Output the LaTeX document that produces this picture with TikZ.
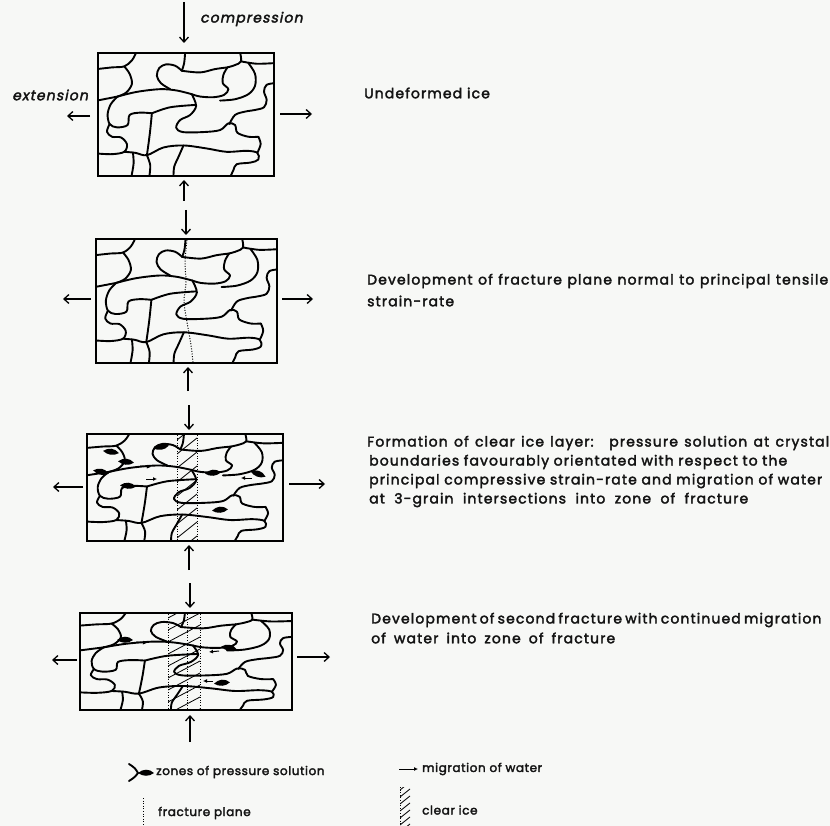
\documentclass[tikz,border=0pt]{standalone}
\usepackage{fontspec}
\setmainfont{Poppins}[LetterSpace=8,FakeBold=2.5]
\newfontfamily\lblfont{Poppins}[FakeSlant=0.2,LetterSpace=8,FakeBold=2.5]
\newfontfamily\legfont{Poppins}[LetterSpace=5,FakeBold=2.5]
\usetikzlibrary{arrows.meta}
\definecolor{bgc}{RGB}{247,248,246}
\definecolor{ink}{RGB}{20,20,20}
\newcommand{\icenet}{%
  \clip (293,160) rectangle (822,527);
  \draw[gb] plot[smooth,tension=0.55] coordinates {(408,158) (395,182) (372,200) (335,203) (290,208)};
  \draw[gb] plot[smooth,tension=0.55] coordinates {(372,200) (388,222) (395,252) (378,278) (352,290)};
  \draw[gb] plot[smooth,tension=0.55] coordinates {(290,302) (352,290)};
  \draw[gb] plot[smooth,tension=0.55] coordinates {(352,290) (410,276) (480,268) (530,272) (575,283)};
  \draw[gb] plot[smooth,tension=0.55] coordinates {(555,158) (552,190) (545,213)};
  \draw[gb] plot[smooth,tension=0.55] coordinates {(545,213) (525,198) (497,194) (477,205) (470,228) (482,250) (510,268)};
  \draw[gb] plot[smooth,tension=0.55] coordinates {(545,213) (600,218) (645,208) (682,203)};
  \draw[gb] plot[smooth,tension=0.55] coordinates {(720,158) (723,185) (705,196) (682,203)};
  \draw[gb] plot[smooth,tension=0.55] coordinates {(723,185) (770,192) (826,190)};
  \draw[gb] plot[smooth,tension=0.55] coordinates {(682,203) (670,225) (668,250) (685,268) (672,285) (640,292) (600,290) (575,283)};
  \draw[gb] plot[smooth,tension=0.55] coordinates {(745,190) (765,222) (765,258) (745,283) (705,298) (660,302)};
  \draw[gb] plot[smooth,tension=0.55] coordinates {(826,250) (800,255) (792,275) (800,300) (792,322) (765,330) (735,335) (705,345) (688,372)};
  \draw[gb] plot[smooth,tension=0.55] coordinates {(575,283) (588,318) (570,345) (540,360) (528,383) (548,396) (610,396) (660,390) (685,370) (705,375) (712,398) (745,410) (775,410)};
  \draw[gb] plot[smooth,tension=0.55] coordinates {(352,290) (332,312) (322,342) (328,372) (350,382) (382,375) (388,345) (420,338) (455,340)};
  \draw[gb] plot[smooth,tension=0.55] coordinates {(455,340) (510,322) (586,315)};
  \draw[gb] plot[smooth,tension=0.55] coordinates {(455,340) (450,390) (445,430) (440,465)};
  \draw[gb] plot[smooth,tension=0.55] coordinates {(328,372) (320,395) (335,410) (362,412) (380,432) (372,455) (335,462) (290,460)};
  \draw[gb] plot[smooth,tension=0.55] coordinates {(372,455) (405,458) (440,465) (490,442) (550,436) (620,445) (680,455) (740,452) (772,458) (775,478) (752,487) (710,492) (700,510) (690,531)};
  \draw[gb] plot[smooth,tension=0.55] coordinates {(440,465) (450,495) (447,531)};
  \draw[gb] plot[smooth,tension=0.55] coordinates {(550,436) (535,470) (522,500) (520,531)};
  \draw[gb] plot[smooth,tension=0.55] coordinates {(398,457) (400,490) (393,531)};
  \draw[gb] plot[smooth,tension=0.55] coordinates {(775,410) (782,432) (772,458)};
}
\begin{document}
\begin{tikzpicture}[x=1pt,y=-1pt,
  gb/.style={line width=1.9pt,line join=round,line cap=round},
  boxst/.style={draw,line width=2.1pt,inner sep=0pt},
  arr/.style={line width=1.3pt,-{Straight Barb[length=5pt,width=9pt]}},
  smallarr/.style={line width=1pt,-{Latex[length=4pt,width=4pt]}},
  fracture/.style={line width=1pt,dash pattern=on 1pt off 1.6pt},
  hatch/.style={line width=0.8pt},
  desc/.style={anchor=west,inner sep=0pt,text=ink,font=\fontsize{14}{16}\selectfont},
  leg/.style={anchor=west,inner sep=0pt,text=ink,font=\legfont\fontsize{12}{14}\selectfont},
  lbl/.style={anchor=west,inner sep=0pt,text=ink,font=\lblfont\fontsize{14}{16}\selectfont},
  blob/.pic={\fill (-8,0) .. controls (-3,-4.2) and (3,-4.6) .. (8,0) .. controls (3,3.8) and (-3,3.6) .. (-8,0);}
]
\fill[bgc] (0,0) rectangle (830,826);
\useasboundingbox (0,0) rectangle (830,826);

% boxes
\node[boxst,minimum width=176pt,minimum height=123pt] (b1) at (186,114.5) {};
\node[boxst,minimum width=181pt,minimum height=124pt] (b2) at (186.5,301) {};
\node[boxst,minimum width=196pt,minimum height=107pt] (b3) at (185,487.5) {};
\node[boxst,minimum width=212pt,minimum height=97pt] (b4) at (186,661.5) {};

% grain networks
\begin{scope}[shift={(98,53)},xscale=0.998,yscale=1.005,shift={(-97.67,-53.33)},scale=0.33333]
\icenet
\end{scope}
\begin{scope}[shift={(96,239)},xscale=1.026,yscale=1.014,shift={(-97.67,-53.33)},scale=0.33333]
\icenet
\end{scope}
\begin{scope}[shift={(87,434)},xscale=1.111,yscale=0.875,shift={(-97.67,-53.33)},scale=0.33333]
\icenet
\end{scope}
\begin{scope}[shift={(80,613)},xscale=1.202,yscale=0.793,shift={(-97.67,-53.33)},scale=0.33333]
\icenet
\end{scope}

% fracture plane in box 2
\draw[fracture] plot[smooth] coordinates {(187,240) (185,262) (186,282) (184,302) (187,322) (191,345) (193,362)};

% clear ice band box 3
\begin{scope}
\clip (177,434) rectangle (197,541);
\foreach \yy in {440,454,...,566} \draw[hatch] (177,\yy) -- (197,\yy-16);
\end{scope}
\draw[fracture] (177,435) -- (177,540);
\draw[fracture] (197,435) -- (197,540);

% clear ice band box 4
\begin{scope}
\clip (168,613) rectangle (200,710);
\foreach \yy in {618,630,...,738} \draw[hatch] (168,\yy) -- (200,\yy-17);
\end{scope}
\draw[fracture] (168,614) -- (168,709);
\draw[fracture] (187,614) -- (187,709);
\draw[fracture] (200,614) -- (200,709);

% pressure solution zones box 3
\pic[rotate=-8] at (111,452) {blob};
\pic[rotate=-5] at (126,462) {blob};
\pic[rotate=-12] at (101,472) {blob};
\pic[rotate=-5] at (128,486) {blob};
\pic[rotate=10] at (161,447) {blob};
\pic[rotate=5] at (213,473) {blob};
\pic[rotate=-20] at (258,474) {blob};
\pic[rotate=5] at (220,510) {blob};
\coordinate (m1s) at (140,466); \coordinate (m1e) at (151,467);
\coordinate (m2s) at (146,479); \coordinate (m2e) at (157,479);
\coordinate (m3s) at (252,478); \coordinate (m3e) at (241,478);
\draw[smallarr] (m1s) -- (m1e);
\draw[smallarr] (m2s) -- (m2e);
\draw[smallarr] (m3s) -- (m3e);

% pressure solution zones box 4
\pic[rotate=0] at (125,640) {blob};
\pic[rotate=-10] at (229,648) {blob};
\pic[rotate=5] at (222,683) {blob};
\coordinate (m4s) at (136,642); \coordinate (m4e) at (147,643);
\coordinate (m5s) at (219,651); \coordinate (m5e) at (209,652);
\coordinate (m6s) at (213,681); \coordinate (m6e) at (203,681);
\draw[smallarr] (m4s) -- (m4e);
\draw[smallarr] (m5s) -- (m5e);
\draw[smallarr] (m6s) -- (m6e);

% vertical arrows
\coordinate (v0s) at (184,2);   \coordinate (v0e) at (184,43);
\coordinate (v1s) at (184,201); \coordinate (v1e) at (184,180);
\coordinate (v2s) at (186,210); \coordinate (v2e) at (186,235);
\coordinate (v3s) at (188,391); \coordinate (v3e) at (188,367);
\coordinate (v4s) at (189,405); \coordinate (v4e) at (189,430);
\coordinate (v5s) at (189,570); \coordinate (v5e) at (189,545);
\coordinate (v6s) at (190,583); \coordinate (v6e) at (190,608);
\coordinate (v7s) at (190,742); \coordinate (v7e) at (190,715);
\foreach \k in {0,...,7} \draw[arr] (v\k s) -- (v\k e);

% horizontal arrows
\coordinate (h1ls) at (90,116);  \coordinate (h1le) at (67,116);
\coordinate (h1rs) at (280,114); \coordinate (h1re) at (312,114);
\coordinate (h2ls) at (91,299);  \coordinate (h2le) at (63,299);
\coordinate (h2rs) at (282,299); \coordinate (h2re) at (313,299);
\coordinate (h3ls) at (83,487);  \coordinate (h3le) at (53,487);
\coordinate (h3rs) at (289,484); \coordinate (h3re) at (325,484);
\coordinate (h4ls) at (77,660);  \coordinate (h4le) at (52,660);
\coordinate (h4rs) at (297,657); \coordinate (h4re) at (330,657);
\foreach \k in {1,...,4} {\draw[arr] (h\k ls) -- (h\k le); \draw[arr] (h\k rs) -- (h\k re);}

% labels
\node[lbl] (lc) at (200,19) {compression};
\node[lbl] (lx) at (12,95) {extension};

% descriptions
\node[desc] (t1) at (364,93) {Undeformed ice};
\node[desc] (t2a) at (367,281) {\makebox[461pt][s]{Development of fracture plane normal to principal tensile}};
\node[desc] (t2b) at (367,301) {strain-rate};
\node[desc] (t3a) at (367,443) {\makebox[462pt][s]{Formation of clear ice layer: \ pressure solution at crystal}};
\node[desc] (t3b) at (369,462) {\makebox[418pt][s]{boundaries favourably orientated with respect to the}};
\node[desc] (t3c) at (369,481) {\makebox[453pt][s]{principal compressive strain-rate and migration of water}};
\node[desc] (t3d) at (369,500) {\makebox[379pt][s]{at 3-grain intersections into zone of fracture}};
\node[desc] (t4a) at (371,620) {\makebox[442pt][s]{Development of second fracture with continued migration}};
\node[desc] (t4b) at (371,638) {\makebox[244pt][s]{of water into zone of fracture}};

% legend
\draw[gb] (129,764) .. controls (135,768) .. (138,773) .. controls (135,777) .. (129,781);
\pic at (146,773) {blob};
\node[leg] (lg1) at (156,772) {zones of pressure solution};
\draw[fracture] (143,798) -- (143,826);
\node[leg] (lg2) at (158,813) {fracture plane};
\coordinate (lms) at (399,769); \coordinate (lme) at (418,769);
\draw[smallarr] (lms) -- (lme);
\node[leg] (lg3) at (422,769) {migration of water};
\begin{scope}
\clip (400,787) rectangle (410,826);
\foreach \yy in {790,797,...,840} \draw[hatch] (400,\yy) -- (410,\yy-8);
\end{scope}
\draw[fracture] (400,787) -- (400,826);
\node[leg] (lg4) at (422,810) {clear ice};
\end{tikzpicture}
\end{document}
